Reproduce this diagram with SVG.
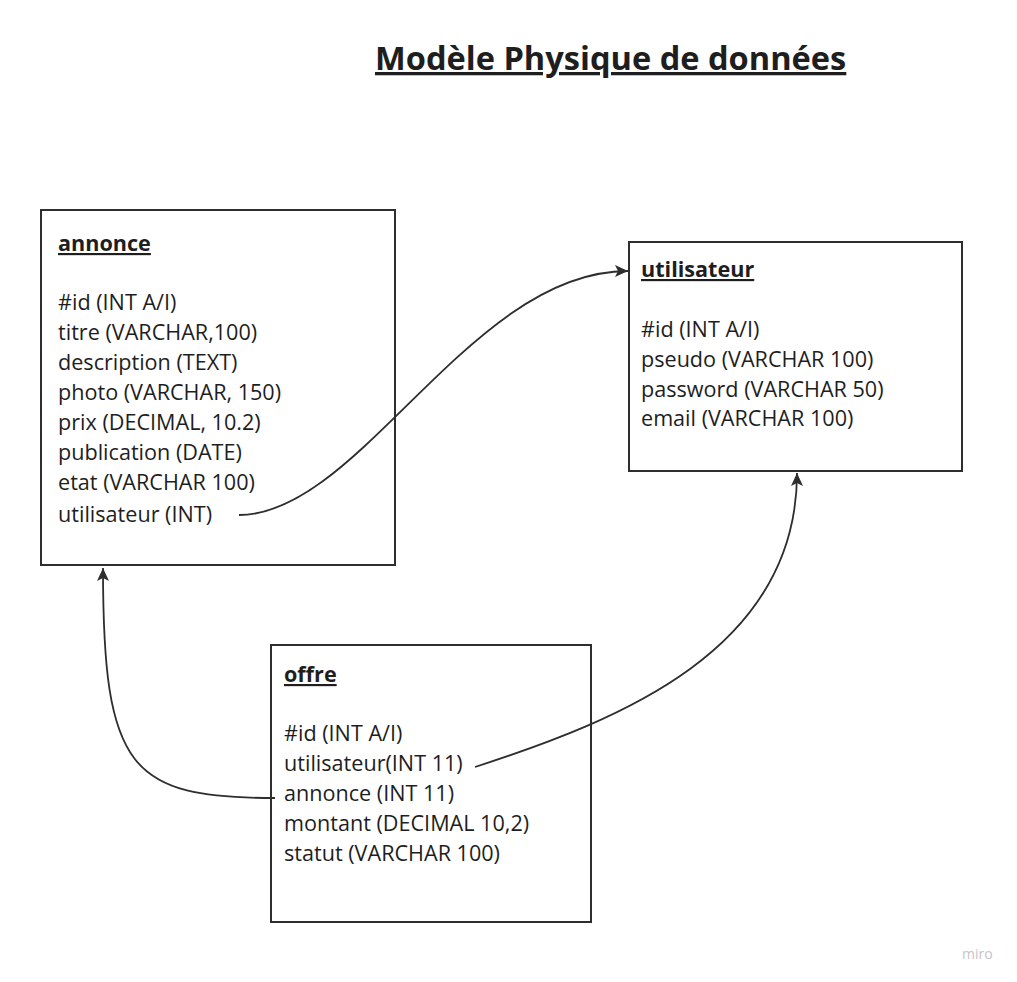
<svg xmlns="http://www.w3.org/2000/svg" width="1017" height="982" viewBox="0 0 1017 982">
<style>
text{font-family:"Open Sans","Noto Sans","Liberation Sans",sans-serif;fill:#1e1e1e}
.f{font-size:21.6px}
.h{font-size:21.6px;font-weight:bold;text-decoration:underline}
.t{font-size:32.6px;font-weight:bold;text-decoration:underline}
.box{fill:#ffffff;stroke:#2e2e2e;stroke-width:2}
.c{fill:none;stroke:#2e2e2e;stroke-width:1.8}
</style>
<defs>
<marker id="arr" markerUnits="userSpaceOnUse" markerWidth="16" markerHeight="16" viewBox="0 0 16 16" refX="14" refY="8" orient="auto">
<path d="M1,2 L14,8 L1,14 L4,8 Z" fill="#2e2e2e"/>
</marker>
</defs>
<rect width="1017" height="982" fill="#ffffff"/>
<text class="t" x="375" y="70">Modèle Physique de données</text>
<g id="annonce">
<rect class="box" x="41" y="210" width="354" height="355"/>
<text class="h" x="58" y="251">annonce</text>
<text class="f" x="58" y="310">#id (INT A/I)</text>
<text class="f" x="58" y="340">titre (VARCHAR,100)</text>
<text class="f" x="58" y="370">description (TEXT)</text>
<text class="f" x="58" y="400">photo (VARCHAR, 150)</text>
<text class="f" x="58" y="430">prix (DECIMAL, 10.2)</text>
<text class="f" x="58" y="460">publication (DATE)</text>
<text class="f" x="58" y="490">etat (VARCHAR 100)</text>
<text class="f" x="58" y="522">utilisateur (INT)</text>
</g>
<g id="utilisateur">
<rect class="box" x="629" y="242" width="333" height="229"/>
<text class="h" x="641" y="277">utilisateur</text>
<text class="f" x="641" y="337">#id (INT A/I)</text>
<text class="f" x="641" y="367">pseudo (VARCHAR 100)</text>
<text class="f" x="641" y="397">password (VARCHAR 50)</text>
<text class="f" x="641" y="426">email (VARCHAR 100)</text>
</g>
<g id="offre">
<rect class="box" x="271" y="645" width="320" height="277"/>
<text class="h" x="284" y="682">offre</text>
<text class="f" x="284" y="741">#id (INT A/I)</text>
<text class="f" x="284" y="771">utilisateur(INT 11)</text>
<text class="f" x="284" y="801">annonce (INT 11)</text>
<text class="f" x="284" y="831">montant (DECIMAL 10,2)</text>
<text class="f" x="284" y="861">statut (VARCHAR 100)</text>
</g>
<g id="connectors">
<path class="c" d="M239,515 C360,515 470,271 628,271" marker-end="url(#arr)"/>
<path class="c" d="M475,767 C620,720 797,650 797,473" marker-end="url(#arr)"/>
<path class="c" d="M275,798 C130,798 103,770 103,568" marker-end="url(#arr)"/>
</g>
<text x="962" y="959" style="font-size:14px;fill:#c4c4cc">miro</text>
</svg>
